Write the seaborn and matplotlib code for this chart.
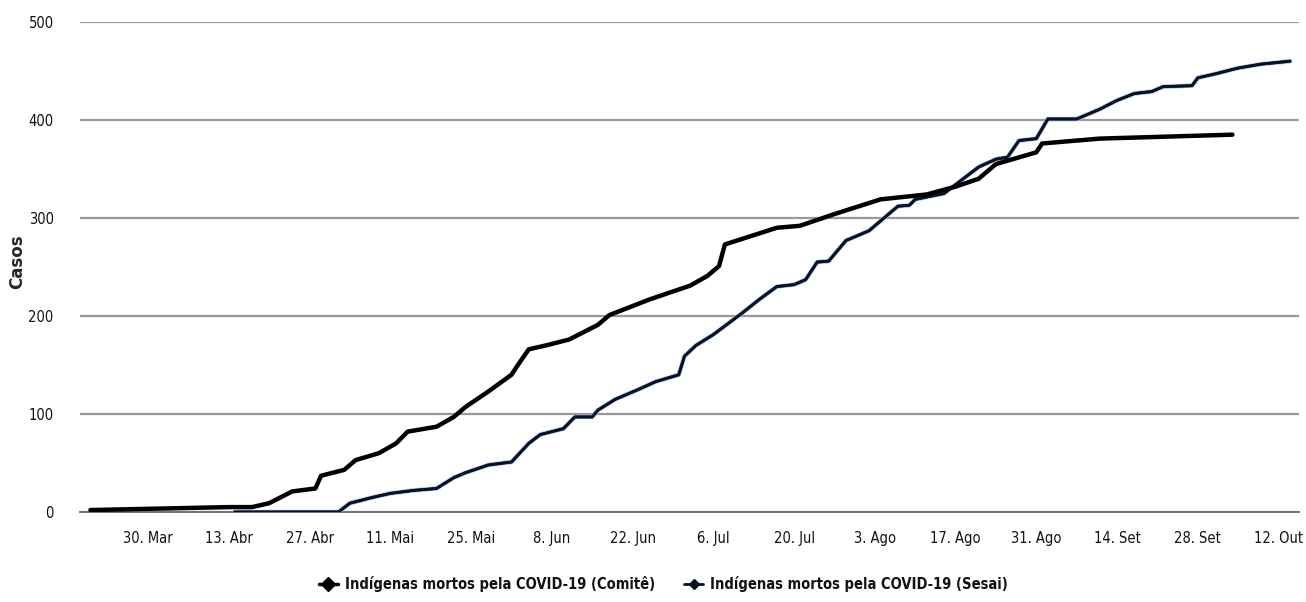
import pandas as pd
import matplotlib.pyplot as plt
import matplotlib.patheffects as pe
from matplotlib.lines import Line2D
import seaborn as sns

# values (cumulative deaths)
comite_dates = ['2020-03-20', '2020-04-13', '2020-04-17', '2020-04-20', '2020-04-24', '2020-04-28',
                '2020-04-29', '2020-05-03', '2020-05-05', '2020-05-09', '2020-05-12', '2020-05-14',
                '2020-05-19', '2020-05-22', '2020-05-24', '2020-05-28', '2020-06-01', '2020-06-02',
                '2020-06-04', '2020-06-07', '2020-06-11', '2020-06-16', '2020-06-18', '2020-06-25',
                '2020-07-02', '2020-07-05', '2020-07-07', '2020-07-08', '2020-07-17', '2020-07-21',
                '2020-07-27', '2020-08-04', '2020-08-12', '2020-08-17', '2020-08-21', '2020-08-24',
                '2020-08-31', '2020-09-01', '2020-09-11', '2020-10-04']
comite_vals = [2, 5, 5, 9, 21, 24,
               37, 43, 53, 60, 70, 82,
               87, 97, 107, 123, 140, 149,
               166, 170, 176, 191, 201, 217,
               231, 241, 251, 273, 290, 292,
               304, 319, 324, 332, 340, 355,
               367, 376, 381, 385]

sesai_dates = ['2020-04-14', '2020-05-02', '2020-05-04', '2020-05-08', '2020-05-11', '2020-05-15',
               '2020-05-19', '2020-05-22', '2020-05-24', '2020-05-28', '2020-06-01', '2020-06-04',
               '2020-06-06', '2020-06-10', '2020-06-12', '2020-06-15', '2020-06-16', '2020-06-19',
               '2020-06-23', '2020-06-26', '2020-06-30', '2020-07-01', '2020-07-03', '2020-07-06',
               '2020-07-11', '2020-07-14', '2020-07-17', '2020-07-20', '2020-07-22', '2020-07-24',
               '2020-07-26', '2020-07-29', '2020-08-02', '2020-08-07', '2020-08-09', '2020-08-10',
               '2020-08-15', '2020-08-21', '2020-08-24', '2020-08-26', '2020-08-28', '2020-08-31',
               '2020-09-02', '2020-09-07', '2020-09-09', '2020-09-11', '2020-09-14', '2020-09-17',
               '2020-09-20', '2020-09-22', '2020-09-27', '2020-09-28', '2020-10-01', '2020-10-05',
               '2020-10-09', '2020-10-14']
sesai_vals = [0, 0, 9, 15, 19, 22,
              24, 35, 40, 48, 51, 70,
              79, 85, 97, 97, 104, 115,
              125, 133, 140, 159, 170, 181,
              203, 217, 230, 232, 237, 255,
              256, 277, 287, 312, 313, 319,
              325, 352, 360, 362, 379, 381,
              401, 401, 406, 411, 420, 427,
              429, 434, 435, 443, 447, 453,
              457, 460]

names = ['Indígenas mortos pela COVID-19 (Comitê)', 'Indígenas mortos pela COVID-19 (Sesai)']
tick_dates = ['2020-03-30', '2020-04-13', '2020-04-27', '2020-05-11', '2020-05-25', '2020-06-08',
              '2020-06-22', '2020-07-06', '2020-07-20', '2020-08-03', '2020-08-17', '2020-08-31',
              '2020-09-14', '2020-09-28', '2020-10-12']
tick_labels = ['30. Mar', '13. Abr', '27. Abr', '11. Mai', '25. Mai', '8. Jun', '22. Jun', '6. Jul',
               '20. Jul', '3. Ago', '17. Ago', '31. Ago', '14. Set', '28. Set', '12. Out']

df = pd.concat([
    pd.DataFrame({'data': pd.to_datetime(comite_dates), 'casos': comite_vals, 'serie': names[0]}),
    pd.DataFrame({'data': pd.to_datetime(sesai_dates), 'casos': sesai_vals, 'serie': names[1]}),
])

sns.set_style('white')
plt.rcParams['font.family'] = ['DejaVu Sans']
plt.rcParams['font.stretch'] = 'condensed'
plt.rcParams['text.color'] = '#111111'
plt.rcParams['xtick.color'] = '#111111'
plt.rcParams['ytick.color'] = '#111111'

fig = plt.figure(figsize=(13.06, 6.02), dpi=100)
ax = fig.add_axes([0.0613, 0.1495, 0.9337, 0.814])

sns.lineplot(data=df, x='data', y='casos', hue='serie', palette=['#000000', '#0a1122'],
             ax=ax, legend=False, estimator=None)
lines = ax.get_lines()
lines[0].set_linewidth(3.2)
lines[0].set_zorder(4)
lines[1].set_linewidth(2)
lines[1].set_zorder(3)
lines[1].set_path_effects([pe.withStroke(linewidth=3.2, foreground='#9dbde3'), pe.Normal()])

ax.set_ylim(0, 500)
ax.set_xlim(pd.Timestamp('2020-03-18 05:00'), pd.Timestamp('2020-10-15 15:00'))
ax.set_yticks([0, 100, 200, 300, 400, 500])
ax.yaxis.grid(True, color='#999999', linewidth=1.6)
ax.set_axisbelow(True)
for s in ['top', 'right', 'left']:
    ax.spines[s].set_visible(False)
ax.spines['bottom'].set_color('#6b7385')
ax.spines['bottom'].set_linewidth(1.4)

ax.set_xticks(pd.to_datetime(tick_dates))
ax.set_xticklabels(tick_labels)
ax.tick_params(axis='x', length=10, width=1, color='#6b7385', labelsize=10.5, pad=4, direction='out')
ax.tick_params(axis='y', length=0, labelsize=10.5, pad=19)
ax.set_xlabel('')
ax.set_ylabel('Casos', fontsize=12, fontweight='bold', fontstretch='normal')
ax.yaxis.set_label_coords(-0.044, 0.51)

handles = [
    Line2D([], [], color='#000000', linewidth=2.5, marker='D', markersize=7),
    Line2D([], [], color='#0a1122', linewidth=2, marker='D', markersize=5),
]
fig.legend(handles, names, loc='center', bbox_to_anchor=(0.508, 0.03), ncol=2, frameon=False,
           prop={'size': 10.5, 'weight': 'bold', 'stretch': 'condensed'}, handlelength=1.3,
           columnspacing=2.0, handletextpad=0.5)

fig.savefig('out.png', dpi=100)
